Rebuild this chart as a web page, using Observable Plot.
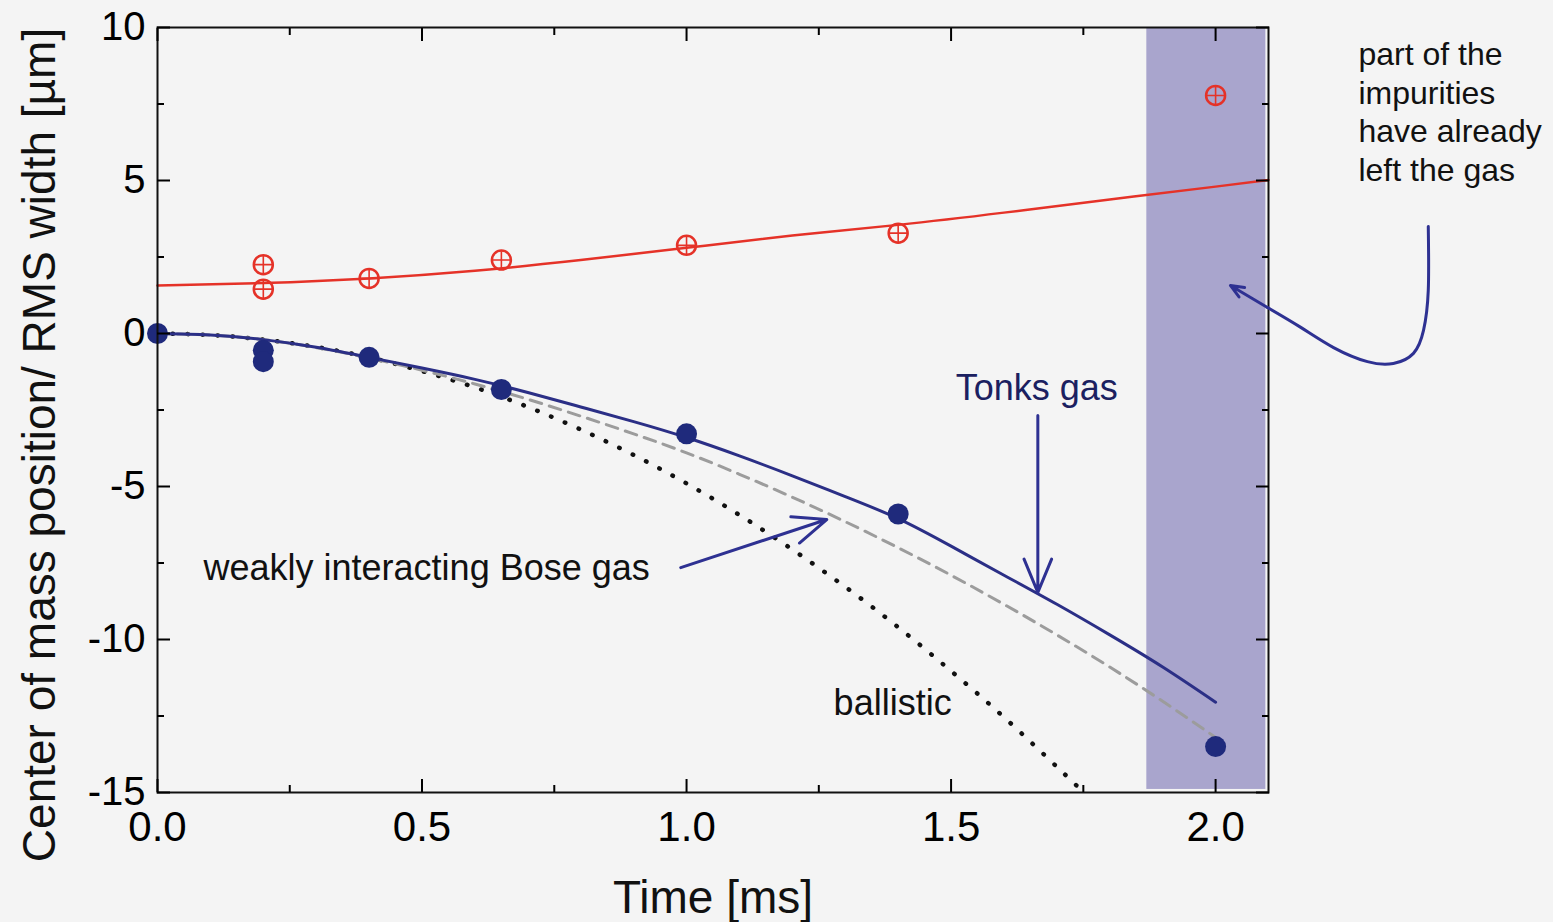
<!DOCTYPE html>
<html><head><meta charset="utf-8">
<script src="https://cdn.jsdelivr.net/npm/d3@7"></script>
<script src="https://cdn.jsdelivr.net/npm/@observablehq/plot@0.6"></script>
<style>html,body{margin:0;padding:0;background:#f4f4f4;overflow:hidden}</style>
</head><body><div id="chart"></div>
<script>
// ---- measured points ----
const impurityT = [0.2, 0.2, 0.4, 0.65, 1.0, 1.4, 2.0];
const impurityW = [2.25, 1.45, 1.8, 2.4, 2.88, 3.28, 7.78];
const gasT = [0, 0.2, 0.2, 0.4, 0.65, 1.0, 1.4, 2.0];
const gasX = [0, -0.55, -0.92, -0.78, -1.83, -3.28, -5.9, -13.5];

// ---- theory curves ----
const fitT = [0,0.1,0.2,0.3,0.4,0.5,0.6,0.7,0.8,0.9,1.0,1.1,1.2,1.3,1.4,1.5,1.6,1.7,1.8,1.9,2.0];
const tonksY = [0,-0.05,-0.2,-0.45,-0.78,-1.13,-1.5,-1.93,-2.4,-2.88,-3.4,-4.0,-4.65,-5.33,-6.05,-6.95,-7.9,-8.85,-9.85,-10.9,-12.05];
const boseY  = [0,-0.05,-0.2,-0.46,-0.8,-1.2,-1.65,-2.15,-2.7,-3.28,-3.9,-4.6,-5.35,-6.15,-7.0,-7.9,-8.85,-9.85,-10.9,-12.02,-13.2];
const ballisticT = [0,0.1,0.2,0.3,0.4,0.5,0.6,0.7,0.8,0.9,1.0,1.1,1.2,1.3,1.4,1.5,1.6,1.7,1.745];
const ballisticY = [0,-0.05,-0.2,-0.44,-0.78,-1.23,-1.76,-2.4,-3.14,-3.97,-4.9,-5.93,-7.06,-8.28,-9.6,-11.03,-12.54,-14.16,-14.9];
const widthT = [0,0.2,0.4,0.6,0.8,1.0,1.2,1.4,1.6,1.8,2.0,2.1];
const widthY = [1.57,1.65,1.8,2.05,2.4,2.8,3.2,3.55,3.95,4.38,4.8,5.02];

// ---- shaded region (impurities left) ----
const shadeX1 = [1.87], shadeX2 = [2.095], shadeY1 = [-14.9], shadeY2 = [10];

// ---- ticks ----
const xMajor = [0, 0.5, 1.0, 1.5, 2.0];
const xMinor = [0.25, 0.75, 1.25, 1.75];
const yMajor = [-15, -10, -5, 0, 5, 10];
const yMinor = [-12.5, -7.5, -2.5, 2.5, 7.5];

// ---- annotations ----
const boseArrow = [{x1: 0.989, y1: -7.65, x2: 1.265, y2: -6.08}];
const tonksArrow = [{x1: 1.664, y1: -2.68, x2: 1.664, y2: -8.46}];
const curveT = [2.402, 2.402, 2.393, 2.374, 2.336, 2.287, 2.223, 2.161, 2.098];
const curveY = [3.5, 1.41, 0.10, -0.65, -0.98, -0.92, -0.46, 0.20, 0.85];
const curveArrow = [{x1: 2.098, y1: 0.85, x2: 2.028, y2: 1.57}];
const noteLines = ["part of the", "impurities", "have already", "left the gas"];

const impurities = impurityT.map((t, i) => ({t, v: impurityW[i]}));
const gas = gasT.map((t, i) => ({t, v: gasX[i]}));
const tonks = fitT.map((t, i) => ({t, v: tonksY[i]}));
const bose = fitT.map((t, i) => ({t, v: boseY[i]}));
const ballistic = ballisticT.map((t, i) => ({t, v: ballisticY[i]}));
const widthFit = widthT.map((t, i) => ({t, v: widthY[i]}));
const curve = curveT.map((t, i) => ({t, v: curveY[i]}));
const shade = shadeX1.map((x, i) => ({x1: x, x2: shadeX2[i], y1: shadeY1[i], y2: shadeY2[i]}));

const FONT = "Liberation Sans, Arial, sans-serif";
const arrowColor = "#2e3192";

const chart = Plot.plot({
  width: 1553, height: 922,
  marginLeft: 157, marginRight: 285, marginTop: 27, marginBottom: 130,
  style: {background: "#f4f4f4", fontFamily: FONT, overflow: "visible"},
  x: {domain: [0, 2.1], axis: null},
  y: {domain: [-15, 10], axis: null},
  marks: [
    Plot.rect(shade, {x1: "x1", x2: "x2", y1: "y1", y2: "y2", fill: "#a9a5cd"}),
    Plot.line(ballistic, {x: "t", y: "v", stroke: "#111", strokeWidth: 4.5, strokeDasharray: "0.5,14.5", strokeLinecap: "round", curve: "natural"}),
    Plot.line(bose, {x: "t", y: "v", stroke: "#9c9c9c", strokeWidth: 3, strokeDasharray: "12,8", curve: "natural"}),
    Plot.line(tonks, {x: "t", y: "v", stroke: "#2b2f86", strokeWidth: 3, curve: "natural"}),
    Plot.line(widthFit, {x: "t", y: "v", stroke: "#e53228", strokeWidth: 2.5, curve: "natural"}),
    Plot.dot(gas, {x: "t", y: "v", r: 10.5, fill: "#1f2a7c", stroke: "none"}),
    Plot.dot(impurities, {x: "t", y: "v", r: 9.5, fill: "none", stroke: "#e53228", strokeWidth: 2.5}),
    Plot.dot(impurities, {x: "t", y: "v", r: 5.8, symbol: "plus", stroke: "#e53228", strokeWidth: 1.6}),
    Plot.frame({stroke: "#111", strokeWidth: 2}),
    // axes: ticks pointing inward on all four sides
    Plot.axisX({anchor: "bottom", ticks: xMajor, tickSize: -13, tickPadding: 32, tickFormat: d => d.toFixed(1), fontSize: 42, label: null, strokeWidth: 2}),
    Plot.axisX({anchor: "bottom", ticks: xMinor, tickSize: -7, tickFormat: () => "", label: null, strokeWidth: 2}),
    Plot.axisX({anchor: "top", ticks: xMajor, tickSize: -13, tickFormat: () => "", label: null, strokeWidth: 2}),
    Plot.axisX({anchor: "top", ticks: xMinor, tickSize: -7, tickFormat: () => "", label: null, strokeWidth: 2}),
    Plot.axisY({anchor: "left", ticks: yMajor, tickSize: -13, tickPadding: 25, tickFormat: d => String(d), fontSize: 40, label: null, strokeWidth: 2}),
    Plot.axisY({anchor: "left", ticks: yMinor, tickSize: -7, tickFormat: () => "", label: null, strokeWidth: 2}),
    Plot.axisY({anchor: "right", ticks: yMajor, tickSize: -13, tickFormat: () => "", label: null, strokeWidth: 2}),
    Plot.axisY({anchor: "right", ticks: yMinor, tickSize: -7, tickFormat: () => "", label: null, strokeWidth: 2}),
    // axis labels
    Plot.text(["Center of mass position/ RMS width [µm]"], {frameAnchor: "left", textAnchor: "middle", lineAnchor: "middle", dx: -117, dy: 35, rotate: -90, fontSize: 46, fill: "#111"}),
    Plot.text(["Time [ms]"], {frameAnchor: "bottom", dy: 120, fontSize: 46, fill: "#111"}),
    // annotations
    Plot.arrow(boseArrow, {x1: "x1", y1: "y1", x2: "x2", y2: "y2", stroke: arrowColor, strokeWidth: 3, headLength: 18, headAngle: 45}),
    Plot.arrow(tonksArrow, {x1: "x1", y1: "y1", x2: "x2", y2: "y2", stroke: arrowColor, strokeWidth: 3, headLength: 18, headAngle: 45}),
    Plot.line(curve, {x: "t", y: "v", stroke: arrowColor, strokeWidth: 3, curve: "natural"}),
    Plot.arrow(curveArrow, {x1: "x1", y1: "y1", x2: "x2", y2: "y2", stroke: arrowColor, strokeWidth: 3, headLength: 18, headAngle: 45}),
    Plot.text(["weakly interacting Bose gas"], {x: 0.087, y: -7.68, textAnchor: "start", fontSize: 36, fill: "#111"}),
    Plot.text(["Tonks gas"], {x: 1.662, y: -1.8, fontSize: 36, fill: "#1b2060"}),
    Plot.text(["ballistic"], {x: 1.278, y: -12.1, textAnchor: "start", fontSize: 36, fill: "#111"}),
    Plot.text([noteLines.join("\n")], {x: 2.27, y: 7.28, textAnchor: "start", fontSize: 32, lineHeight: 1.2, fill: "#111"})
  ]
});
document.getElementById("chart").appendChild(chart);
</script>
</body></html>
